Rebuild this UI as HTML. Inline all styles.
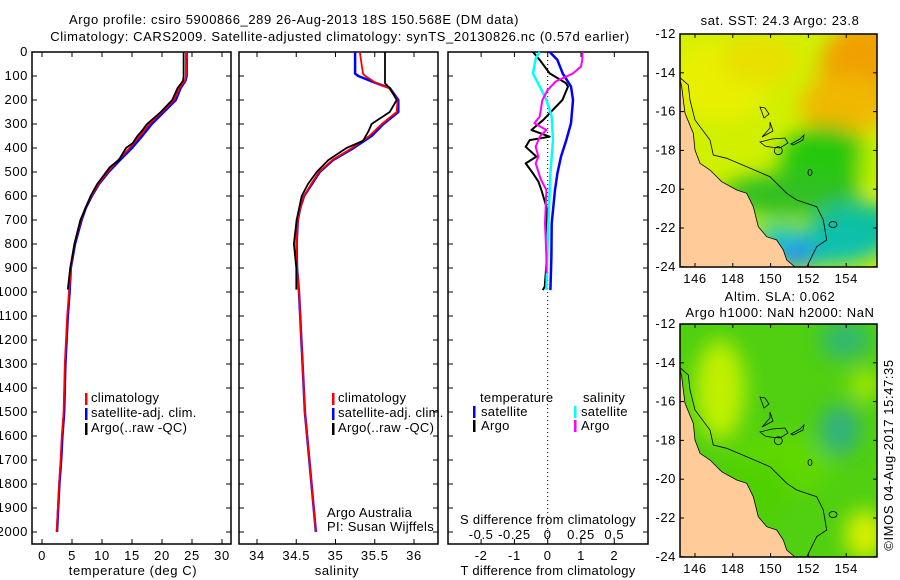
<!DOCTYPE html>
<html><head><meta charset="utf-8"><style>
body{margin:0;background:#fff;}
svg{display:block;font-family:"Liberation Sans",sans-serif;font-size:13px;letter-spacing:0.6px;}
.lg{letter-spacing:0.3px;}
</style></head><body>
<svg id="fig" width="900" height="580" viewBox="0 0 900 580">
<defs>
<filter id="blur" x="-50%" y="-50%" width="200%" height="200%"><feGaussianBlur stdDeviation="10"/></filter>
<clipPath id="clipA"><rect x="680" y="34" width="197" height="233"/></clipPath>
<clipPath id="clipB"><rect x="680" y="324" width="197" height="233"/></clipPath>
</defs>
<text x="294" y="24" text-anchor="middle">Argo profile: csiro 5900866_289 26-Aug-2013 18S 150.568E (DM data)</text>
<text x="340" y="41" text-anchor="middle">Climatology: CARS2009. Satellite-adjusted climatology: synTS_20130826.nc (0.57d earlier)</text>
<g id="plots"></g>
<g id="maps"></g>
</svg>
<script>
// ---- data ----
const tDepth = [0,100,120,150,200,250,300,350,400,450,500,550,600,650,700,800,900,1000,1100,1200,1300,1400,1500,1600,1700,1800,1900,2000];
const tSat   = [24.1,24.1,23.9,23.1,22.3,20.3,18.3,16.7,15.0,13.0,11.1,9.5,8.3,7.3,6.6,5.5,4.8,4.6,4.3,4.1,3.9,3.8,3.7,3.4,3.2,2.9,2.7,2.5];
const tClim  = [24.0,24.0,23.8,22.9,22.0,20.0,17.9,16.3,14.6,12.7,10.9,9.4,8.2,7.2,6.5,5.4,4.8,4.5,4.2,4.0,3.8,3.7,3.6,3.3,3.1,2.85,2.65,2.45];
const aDepth = [0,100,120,150,200,250,300,330,350,380,400,450,480,500,550,600,700,800,900,990];
const tArgo  = [23.6,23.6,23.5,22.6,21.7,19.8,17.5,16.6,15.9,15.1,14.0,12.8,11.3,10.7,9.2,8.1,6.4,5.4,4.7,4.3];
const sDepth = [0,90,100,130,150,200,250,300,350,400,450,500,550,600,650,700,800,900,1000,1100,1500,2000];
const sSat   = [35.25,35.25,35.29,35.52,35.69,35.80,35.80,35.61,35.46,35.23,34.97,34.80,34.70,34.60,34.55,34.52,34.505,34.51,34.535,34.55,34.61,34.75];
const sClim  = [35.31,35.35,35.38,35.52,35.68,35.79,35.78,35.59,35.43,35.21,34.96,34.79,34.69,34.60,34.55,34.52,34.505,34.51,34.535,34.55,34.61,34.75];
const sArgoDepth = [0,130,150,200,250,300,330,370,400,450,500,550,600,700,800,900,990];
const sArgo  = [35.63,35.63,35.69,35.78,35.69,35.46,35.42,35.35,35.14,34.91,34.76,34.65,34.57,34.505,34.47,34.50,34.50];
const dTDepth = [0,33,89,144,200,297,367,436,506,575,714,853,992];
const dTSat   = [0.06,0.29,0.45,0.70,0.76,0.70,0.56,0.40,0.29,0.22,0.12,0.11,0.08];
const dAgDepth = [0,33,89,130,144,200,242,284,325,353,367,395,436,464,506,540,575,645,714,853,978,992];
const dTArgo   = [-0.44,-0.24,0.06,0.55,0.61,0.44,0.15,-0.14,-0.49,0.06,-0.54,-0.66,-0.34,-0.66,-0.44,-0.28,-0.19,-0.04,-0.02,-0.02,-0.09,-0.15];
const dSDepth = [0,33,61,89,123,158,200,269,297,325,353,395,436,464,533,575,714,853,922];
const dSArgo  = [0.26,0.26,0.25,0.19,0.06,0.0,-0.04,-0.06,-0.10,-0.01,-0.06,-0.09,-0.07,-0.09,-0.05,-0.01,-0.02,-0.01,-0.01];
const dSSatDepth = [0,28,89,144,200,269,367,506,644,783,992];
const dSSat   = [-0.06,-0.09,-0.11,-0.06,-0.01,0.03,0.04,0.02,0.01,0.0,-0.01];
const depthTicks = [0,100,200,300,400,500,600,700,800,900,1000,1100,1200,1300,1400,1500,1600,1700,1800,1900,2000];
const tTicks = [0,5,10,15,20,25,30];
const sTicks = [34,34.5,35,35.5,36];
const dTTicks = [-2,-1,0,1,2];
const dTTickLabels = ["-2","-1","0","1","2"];
const dSTicks = [-0.5,-0.25,0,0.25,0.5];
const dSTickLabels = ["-0.5","-0.25","0","0.25","0.5"];
const lonTicks = [146,148,150,152,154];
const latTicks = [-12,-14,-16,-18,-20,-22,-24];

const NS='http://www.w3.org/2000/svg';
const plots=document.getElementById('plots');
function mk(tag,attrs,parent,text){const e=document.createElementNS(NS,tag);for(const k in attrs)e.setAttribute(k,attrs[k]);if(text!==undefined)e.textContent=text;(parent||plots).appendChild(e);return e;}
const yD=d=>52+d*0.24;
const xT=t=>42+t*6;
const xS=s=>257+(s-34)*78.5;
const xDT=t=>547.7+t*33.3;
const xDS=s=>547.7+s*133.2;
const P=[{x0:32,x1:231},{x0:239,x1:438},{x0:448,x1:648}];
const Y0=52,Y1=544;

P.forEach((p,i)=>{
  const r=mk('rect',{x:p.x0,y:Y0,width:p.x1-p.x0,height:Y1-Y0,fill:'none',stroke:'#000','stroke-width':1.5});
  
  
  depthTicks.forEach(d=>{
    mk('line',{x1:p.x0,x2:p.x0+5,y1:yD(d),y2:yD(d),stroke:'#000'});
    mk('line',{x1:p.x1,x2:p.x1-5,y1:yD(d),y2:yD(d),stroke:'#000'});
  });
});
depthTicks.forEach(d=>{
  const t=mk('text',{x:28,y:yD(d)+4,'text-anchor':'end'},plots,String(d));
  
  
});
function xticks(vals,labels,fx,labY,top,bottom){
  vals.forEach((v,i)=>{
    const x=fx(v);
    if(top)mk('line',{x1:x,x2:x,y1:Y0,y2:Y0+5,stroke:'#000'});
    if(bottom)mk('line',{x1:x,x2:x,y1:Y1,y2:Y1-5,stroke:'#000'});
    const t=mk('text',{x:x,y:labY,'text-anchor':'middle'},plots,labels[i]);
    
    
  });
}
xticks(tTicks,tTicks.map(String),xT,560,true,true);
xticks(sTicks,sTicks.map(String),xS,560,true,true);
xticks(dTTicks,dTTickLabels,xDT,560,true,true);
xticks(dSTicks,dSTickLabels,xDS,539,false,false);
const zl=mk('line',{x1:xDT(0),x2:xDT(0),y1:Y0,y2:Y1,stroke:'#000','stroke-dasharray':'1,3'});



function series(depths,vals,fx,color,w,name){
  const pts=depths.map((d,i)=>fx(vals[i]).toFixed(1)+','+yD(d).toFixed(1)).join(' ');
  const l=mk('polyline',{points:pts,fill:'none',stroke:color,'stroke-width':w,'stroke-linejoin':'round'});
  
  
}
series(tDepth,tSat,xT,'#0000ff',2.5,'temp-satellite-line');
series(tDepth,tClim,xT,'#ff0000',1.8,'temp-climatology-line');
series(aDepth,tArgo,xT,'#000000',1.8,'temp-argo-line');
series(sDepth,sSat,xS,'#0000ff',2.5,'sal-satellite-line');
series(sDepth,sClim,xS,'#ff0000',1.8,'sal-climatology-line');
series(sArgoDepth,sArgo,xS,'#000000',1.8,'sal-argo-line');
series(dTDepth,dTSat,xDT,'#0000ff',2.5,'tdiff-satellite-line');
series(dAgDepth,dTArgo,xDT,'#000000',2,'tdiff-argo-line');
series(dSSatDepth,dSSat,xDS,'#00ffff',2.5,'sdiff-satellite-line');
series(dSDepth,dSArgo,xDS,'#ff00ff',2,'sdiff-argo-line');

function label(x,y,txt,name,anchor,cls){const t=mk('text',{x:x,y:y,'text-anchor':anchor||'start'},plots,txt);if(cls)t.setAttribute('class',cls);}
function bar(x,y,c,name){const b=mk('rect',{x:x,y:y-10,width:2.5,height:12,fill:c});}
[85,332].forEach(lx=>{
  bar(lx,403,'#ff0000','legend-climatology-swatch');label(lx+6,402,'climatology','legend-climatology','start','lg');
  bar(lx,418,'#0000ff','legend-satellite-swatch');label(lx+6,417,'satellite-adj. clim.','legend-satellite','start','lg');
  bar(lx,433,'#000000','legend-argo-swatch');label(lx+6,432,'Argo(..raw -QC)','legend-argo','start','lg');
});
label(480,402,'temperature','legend-temperature-header','start','lg');
label(583,402,'salinity','legend-salinity-header','start','lg');
bar(473,416,'#0000ff','legend-tsat-swatch');label(481,416,'satellite','legend-tsat','start','lg');
bar(473,430,'#000000','legend-targo-swatch');label(481,430,'Argo','legend-targo','start','lg');
bar(574,416,'#00ffff','legend-ssat-swatch');label(581,416,'satellite','legend-ssat','start','lg');
bar(574,430,'#ff00ff','legend-sargo-swatch');label(581,430,'Argo','legend-sargo','start','lg');
label(548,524,'S difference from climatology','sdiff-axis-title','middle','lg');
label(548,575,'T difference from climatology','tdiff-axis-title','middle','lg');
label(133,575,'temperature (deg C)','temp-axis-title','middle');
label(337,575,'salinity','sal-axis-title','middle');
label(327,517,'Argo Australia','credit-line-1','start','lg');
label(327,531,'PI: Susan Wijffels','credit-line-2','start','lg');

// ---- maps ----
const maps=document.getElementById('maps');
const xLon=l=>695+(l-146)*18.9;
const coast="679.7,78.3 681.7,86.7 683.3,100 685,113.3 693.3,133.3 695,150 700,163.3 710,170 721.7,181.7 736.7,190 746.7,193.3 753.3,206.7 758.3,226.7 766.7,236.7 776.7,240 783.3,250 786.7,260 795,267 680,267";
const iso="680.7,78.3 688.3,85 690,100 695,120 710,140 713.3,155 726.7,158.3 746.7,166.7 770,176.7 786.7,193.3 796.7,200 816.7,206.7 823.3,220 826.7,240 816.7,246.7 806.7,267";
function drawMap(oy,clip,blobs,base,name,titles){
  const g=mk('g',{'clip-path':'url(#'+clip+')'},maps);
  
  
  mk('rect',{x:680,y:oy,width:197,height:233,fill:base},g);
  const bg=mk('g',{filter:'url(#blur)'},g);
  blobs.forEach(b=>mk('ellipse',{cx:b[0],cy:b[1]+oy-34,rx:b[2],ry:b[3],fill:b[4]},bg));
  const sh=mk('g',{transform:'translate(0,'+(oy-34)+')'},g);
  mk('polyline',{points:iso,fill:'none',stroke:'#000','stroke-width':0.8},sh);
  mk('circle',{cx:778.3,cy:150.7,r:4,fill:'none',stroke:'#000','stroke-width':0.8},sh);
  mk('path',{d:'M760,142 L772,139 L785,138 L788,143 L780,148 L770,147 L765,146 Z',fill:'none',stroke:'#000','stroke-width':0.8},sh);
  mk('path',{d:'M791,144 L800,139 L804,135 L803,140 L793,145 Z',fill:'none',stroke:'#000','stroke-width':0.8},sh);
  mk('path',{d:'M760,107 L764,118 L769,114 L765,108 Z M770,122 L773,131 L762,137 L770,128 Z',fill:'none',stroke:'#000','stroke-width':0.8},sh);
  mk('ellipse',{cx:810,cy:172.5,rx:2,ry:3,fill:'none',stroke:'#000','stroke-width':0.8},sh);
  mk('ellipse',{cx:833,cy:224.5,rx:4,ry:3,fill:'none',stroke:'#000','stroke-width':0.8},sh);
  const land=mk('polygon',{points:coast,fill:'#ffcc99',stroke:'#000','stroke-width':0.8},sh);
  
  
  const fr=mk('rect',{x:680,y:oy,width:197,height:233,fill:'none',stroke:'#000','stroke-width':1.5},maps);
  
  
  lonTicks.forEach(l=>{
    const x=xLon(l);
    mk('line',{x1:x,x2:x,y1:oy,y2:oy+4,stroke:'#000'},maps);
    mk('line',{x1:x,x2:x,y1:oy+233,y2:oy+229,stroke:'#000'},maps);
    const t=mk('text',{x:x,y:oy+249,'text-anchor':'middle'},maps,String(l));
    
    
  });
  latTicks.forEach(la=>{
    const y=oy+(-12-la)*19.4;
    mk('line',{x1:680,x2:684,y1:y,y2:y,stroke:'#000'},maps);
    mk('line',{x1:877,x2:873,y1:y,y2:y,stroke:'#000'},maps);
    const t=mk('text',{x:676,y:y+4,'text-anchor':'end'},maps,String(la));
    
    
  });
  titles.forEach(tt=>{
    const t=mk('text',{x:780,y:tt[1],'text-anchor':'middle'},maps,tt[0]);
    
    
  });
}
drawMap(34,'clipA',[
  [870,70,50,50,'#f0a000'],[845,105,45,30,'#f0b800'],[720,80,50,40,'#e8f000'],[760,60,40,25,'#e8e000'],
  [825,160,45,35,'#28c810'],[872,165,12,22,'#b8f000'],[790,195,70,22,'#30c020'],
  [860,228,50,25,'#10c0a0'],[820,248,60,18,'#10c0b0'],[795,252,18,18,'#2090f0'],[780,235,25,10,'#20c8c8']
],'#d0f000','map-sst',[['sat. SST: 24.3 Argo: 23.8',25]]);
drawMap(324,'clipB',[
  [720,100,25,50,'#c0f000'],[845,50,25,20,'#30b870'],[840,140,20,25,'#30b080'],[865,245,20,25,'#d8f000'],
  [865,95,15,15,'#a8e800'],[780,175,50,30,'#60d800'],[750,200,40,30,'#50d000']
],'#50d010','map-sla',[['Altim. SLA: 0.062',301],['Argo h1000: NaN h2000: NaN',317]]);
const ts=mk('text',{x:893,y:455,'text-anchor':'middle',transform:'rotate(-90 893 455)'},maps,'©IMOS 04-Aug-2017 15:47:35');


</script>
</body></html>
